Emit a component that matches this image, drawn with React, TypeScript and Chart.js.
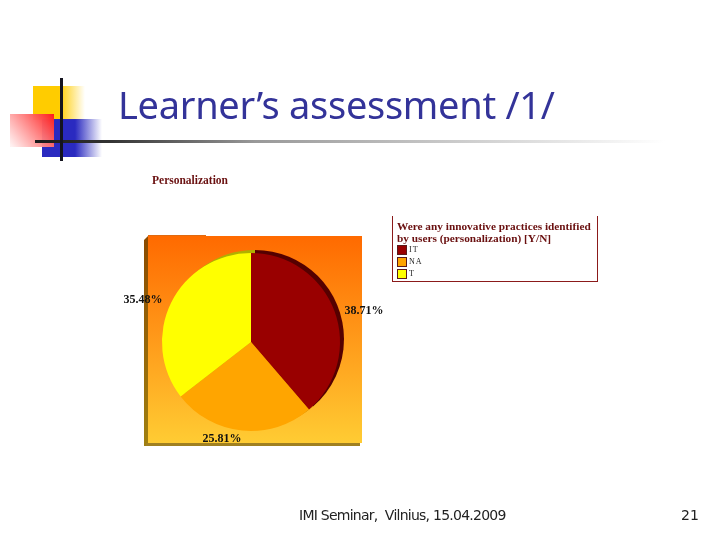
import React, { useEffect, useRef } from "react";
import { Chart, registerables } from "chart.js";

Chart.register(...registerables);

const categories = ["IT", "NA", "T"];
const shares = [38.71, 25.81, 35.48];
const sliceColors = ["#990000", "#ffa500", "#ffff00"];
const shadowColors = ["#550000", "#c08000", "#b0b000"];
const shareLabels = ["38.71%", "25.81%", "35.48%"];
const labelSpots: [number, number][] = [[364, 311], [222, 439], [143, 300]];
const slideTitle = "Learner’s assessment /1/";
const chartTitle = "Personalization";
const legendTitle = ["Were any innovative practices identified", "by users (personalization) [Y/N]"];
const footer = "IMI Seminar,  Vilnius, 15.04.2009";
const pageNumber = "21";

const decor = {
  id: "decor",
  beforeDraw(chart: any) {
    const c = chart.ctx as CanvasRenderingContext2D;
    c.save();
    c.fillStyle = "#fff";
    c.fillRect(0, 0, 720, 540);

    let g = c.createLinearGradient(33, 0, 85, 0);
    g.addColorStop(0, "#ffcc00");
    g.addColorStop(0.5, "#ffcc00");
    g.addColorStop(1, "rgba(255,204,0,0)");
    c.fillStyle = g;
    c.fillRect(33, 86, 52, 34);

    g = c.createLinearGradient(42, 0, 102, 0);
    g.addColorStop(0, "#2a2ac0");
    g.addColorStop(0.55, "#2a2ac0");
    g.addColorStop(1, "rgba(42,42,192,0)");
    c.fillStyle = g;
    c.fillRect(42, 119, 60, 38);

    g = c.createLinearGradient(54, 114, 12, 147);
    g.addColorStop(0, "#ff1a1a");
    g.addColorStop(1, "rgba(255,240,240,0.9)");
    c.fillStyle = g;
    c.fillRect(10, 114, 44, 33);

    g = c.createLinearGradient(35, 0, 665, 0);
    g.addColorStop(0, "#1a1a1a");
    g.addColorStop(0.12, "#333");
    g.addColorStop(0.35, "#999");
    g.addColorStop(1, "#fff");
    c.fillStyle = g;
    c.fillRect(35, 140, 630, 3);
    c.fillStyle = "#14141f";
    c.fillRect(60, 78, 3, 83);

    // chart panel
    g = c.createLinearGradient(0, 445, 0, 236);
    g.addColorStop(0, "#a08010");
    g.addColorStop(1, "#8a4a00");
    c.fillStyle = g;
    c.beginPath();
    c.moveTo(144, 240); c.lineTo(148, 236); c.lineTo(148, 446); c.lineTo(144, 446);
    c.closePath();
    c.fill();
    c.fillStyle = "#a08020";
    c.fillRect(146, 443, 214, 3);
    c.fillStyle = "#e06a10";
    c.fillRect(148, 235, 58, 1);
    g = c.createLinearGradient(0, 236, 0, 443);
    g.addColorStop(0, "#ff6a00");
    g.addColorStop(0.5, "#ff9a1a");
    g.addColorStop(1, "#ffcc33");
    c.fillStyle = g;
    c.fillRect(148, 236, 214, 207);
    c.restore();
  },
  beforeDatasetsDraw(chart: any) {
    const c = chart.ctx as CanvasRenderingContext2D;
    c.save();
    chart.getDatasetMeta(0).data.forEach((a: any, i: number) => {
      c.fillStyle = shadowColors[i];
      c.beginPath();
      c.moveTo(a.x + 4, a.y - 3);
      c.arc(a.x + 4, a.y - 3, a.outerRadius, a.startAngle, a.endAngle);
      c.closePath();
      c.fill();
    });
    c.restore();
  },
  afterDatasetsDraw(chart: any) {
    const c = chart.ctx as CanvasRenderingContext2D;
    c.save();
    c.fillStyle = "#111";
    c.font = "bold 12px 'Liberation Serif'";
    c.textAlign = "center";
    c.textBaseline = "middle";
    shareLabels.forEach((t, i) => c.fillText(t, labelSpots[i][0], labelSpots[i][1]));
    c.restore();
  },
};

const abs: React.CSSProperties = { position: "absolute", whiteSpace: "pre", margin: 0 };

export default function App() {
  const ref = useRef<HTMLCanvasElement>(null);
  useEffect(() => {
    const chart = new Chart(ref.current!, {
      type: "pie",
      data: {
        labels: categories,
        datasets: [{ data: shares, backgroundColor: sliceColors, borderWidth: 0 }],
      },
      options: {
        responsive: false,
        animation: false,
        layout: { padding: { left: 161, right: 379, top: 253, bottom: 109 } },
        plugins: { legend: { display: false }, tooltip: { enabled: false }, title: { display: false } },
      },
      plugins: [decor],
    } as any);
    return () => chart.destroy();
  }, []);
  return (
    <div style={{ position: "fixed", left: 0, top: 0, width: 720, height: 540, overflow: "hidden", background: "#fff" }}>
      <canvas ref={ref} width={720} height={540} style={{ position: "absolute", left: 0, top: 0, width: 720, height: 540 }} />
      <div style={{ ...abs, left: 118, top: 77, font: "38px 'Noto Sans'", lineHeight: "54px", color: "#333399", letterSpacing: "-0.3px" }}>{slideTitle}</div>
      <div style={{ ...abs, left: 152, top: 174, font: "bold 11.5px 'Liberation Serif'", color: "#6a1010" }}>{chartTitle}</div>
      <div style={{ position: "absolute", left: 392, top: 216, width: 204, height: 65, borderLeft: "1px solid #8b1a1a", borderRight: "1px solid #8b1a1a", borderBottom: "1px solid #8b1a1a" }} />
      {legendTitle.map((t, i) => (
        <div key={t} style={{ ...abs, left: 397, top: 220 + i * 12, font: "bold 11.3px 'Liberation Serif'", color: "#6a1010", lineHeight: "12px" }}>{t}</div>
      ))}
      {categories.map((t, i) => (
        <React.Fragment key={t}>
          <div style={{ position: "absolute", left: 397, top: 245 + i * 12, width: 8, height: 8, background: sliceColors[i], border: "1px solid #5a1a1a" }} />
          <div style={{ ...abs, left: 409, top: 245 + i * 12, font: "8px 'Liberation Serif'", color: "#222", lineHeight: "10px", letterSpacing: "1px" }}>{t}</div>
        </React.Fragment>
      ))}
      <div style={{ ...abs, left: 299, top: 507, font: "14px 'DejaVu Sans'", color: "#222", letterSpacing: "-0.75px" }}>{footer}</div>
      <div style={{ ...abs, left: 681, top: 507, font: "14px 'DejaVu Sans'", color: "#222" }}>{pageNumber}</div>
    </div>
  );
}
